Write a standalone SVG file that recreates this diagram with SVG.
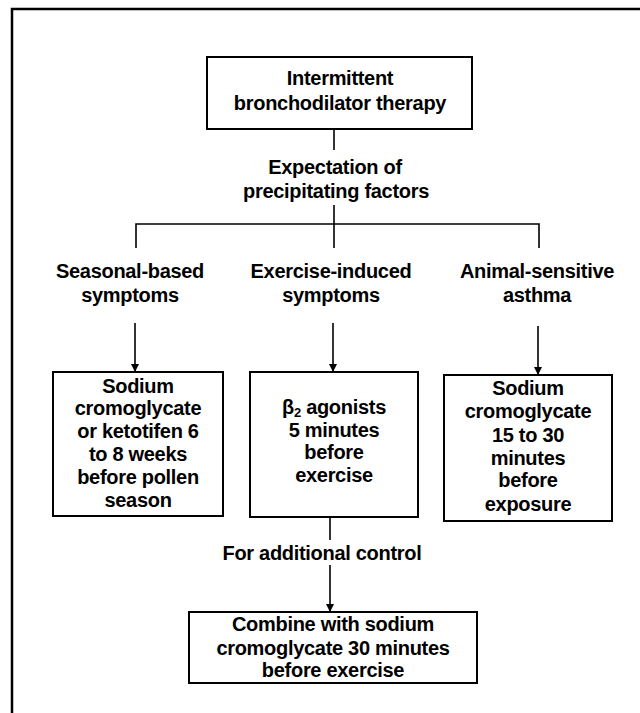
<svg xmlns="http://www.w3.org/2000/svg" width="640" height="713" viewBox="0 0 640 713">
<defs>
<style>
text{font-family:"Liberation Sans",Arial,sans-serif;font-size:20px;font-weight:bold;fill:#000;text-anchor:middle;letter-spacing:-0.3px}
.box{fill:#fff;stroke:#000;stroke-width:2}
.ln{fill:none;stroke:#000;stroke-width:1.6}
.frame{fill:none;stroke:#000;stroke-width:2.5}
</style>
<marker id="ah" viewBox="0 0 10 10" refX="10" refY="5" markerWidth="8" markerHeight="8" markerUnits="userSpaceOnUse" orient="auto">
<path d="M0,0 L10,5 L0,10 Z" fill="#000"/>
</marker>
</defs>
<rect width="640" height="713" fill="#fff"/>
<path class="frame" d="M640,9 H12 V713"/>

<g id="connectors">
<line class="ln" x1="334" y1="129" x2="334" y2="150"/>
<line class="ln" x1="334" y1="205" x2="334" y2="248"/>
<path class="ln" d="M136,248 V224 H539 V248"/>
<line class="ln" x1="135" y1="323" x2="135" y2="372" marker-end="url(#ah)"/>
<line class="ln" x1="333" y1="323" x2="333" y2="372" marker-end="url(#ah)"/>
<line class="ln" x1="538" y1="326" x2="538" y2="375" marker-end="url(#ah)"/>
<line class="ln" x1="330" y1="517" x2="330" y2="540"/>
<line class="ln" x1="330" y1="565" x2="330" y2="612" marker-end="url(#ah)"/>
</g>

<g id="n-intermittent">
<rect class="box" x="207" y="57" width="265" height="72"/>
<text x="340" y="85">Intermittent</text>
<text x="340" y="110">bronchodilator therapy</text>
</g>

<g id="n-expectation">
<text x="335" y="174">Expectation of</text>
<text x="336" y="198">precipitating factors</text>
</g>

<g id="n-seasonal">
<text x="130" y="278">Seasonal-based</text>
<text x="130" y="302">symptoms</text>
</g>

<g id="n-exercise">
<text x="331" y="278">Exercise-induced</text>
<text x="331" y="302">symptoms</text>
</g>

<g id="n-animal">
<text x="537" y="278">Animal-sensitive</text>
<text x="537" y="302">asthma</text>
</g>

<g id="n-sodium-seasonal">
<rect class="box" x="53" y="372" width="170" height="144"/>
<text x="138" y="393">Sodium</text>
<text x="138" y="415">cromoglycate</text>
<text x="138" y="438">or ketotifen 6</text>
<text x="138" y="461">to 8 weeks</text>
<text x="138" y="484">before pollen</text>
<text x="138" y="507">season</text>
</g>

<g id="n-beta2">
<rect class="box" x="250" y="372" width="168" height="145"/>
<text x="334" y="414">β<tspan font-size="13" baseline-shift="-3">2</tspan> agonists</text>
<text x="334" y="437">5 minutes</text>
<text x="334" y="459">before</text>
<text x="334" y="482">exercise</text>
</g>

<g id="n-sodium-animal">
<rect class="box" x="444" y="375" width="168" height="146"/>
<text x="528" y="395">Sodium</text>
<text x="528" y="418">cromoglycate</text>
<text x="528" y="442">15 to 30</text>
<text x="528" y="465">minutes</text>
<text x="528" y="487">before</text>
<text x="528" y="511">exposure</text>
</g>

<g id="n-additional">
<text x="322" y="560">For additional control</text>
</g>

<g id="n-combine">
<rect class="box" x="189" y="612" width="288" height="71"/>
<text x="333" y="631">Combine with sodium</text>
<text x="333" y="655">cromoglycate 30 minutes</text>
<text x="333" y="677">before exercise</text>
</g>
</svg>
